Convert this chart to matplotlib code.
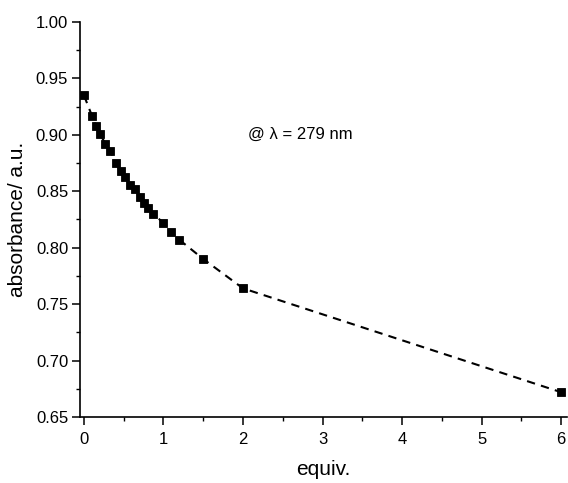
import matplotlib
matplotlib.use("Agg")
import matplotlib.pyplot as plt
from matplotlib.ticker import MultipleLocator

equiv = [0, 0.1, 0.15, 0.2, 0.27, 0.33, 0.4, 0.46, 0.52, 0.58, 0.64, 0.7,
         0.75, 0.81, 0.87, 1.0, 1.1, 1.2, 1.5, 2.0, 6.0]
absorbance = [0.935, 0.917, 0.908, 0.901, 0.892, 0.886, 0.875, 0.868, 0.863,
              0.856, 0.852, 0.845, 0.840, 0.835, 0.830, 0.822, 0.814, 0.807,
              0.790, 0.764, 0.672]
x_ticks = [0, 1, 2, 3, 4, 5, 6]
y_ticks = [0.65, 0.70, 0.75, 0.80, 0.85, 0.90, 0.95, 1.00]

plt.rcParams['font.family'] = ['Liberation Sans', 'DejaVu Sans']

fig = plt.figure(figsize=(5.68, 4.83), dpi=100)
ax = fig.add_axes([80/568, 1-417/483, (567-80)/568, (417-22)/483])

ax.plot(equiv, absorbance, color='black', linestyle=(0, (4, 3)), linewidth=1.5,
        marker='s', markersize=5.5, markeredgewidth=0.6,
        markerfacecolor='black', markeredgecolor='black')

ax.set_xlim(-0.05, 6.075)
ax.set_ylim(0.65, 1.00)
ax.set_xticks(x_ticks)
ax.set_yticks(y_ticks)
ax.set_yticklabels([f"{v:.2f}" for v in y_ticks])
ax.xaxis.set_minor_locator(MultipleLocator(0.5))
ax.yaxis.set_minor_locator(MultipleLocator(0.025))
ax.tick_params(which='major', direction='out', length=5.5, width=1.1, labelsize=12,
               colors='black', pad=3)
ax.tick_params(axis='x', which='major', pad=5)
ax.tick_params(which='minor', direction='out', length=3, width=1.0)
for s in ['top', 'right']:
    ax.spines[s].set_visible(False)
for s in ['left', 'bottom']:
    ax.spines[s].set_linewidth(1.2)

ax.set_xlabel('equiv.', fontsize=15, labelpad=10)
ax.set_ylabel('absorbance/ a.u.', fontsize=15, labelpad=6)
ax.text(2.72, 0.900, '@ λ = 279 nm', fontsize=12, ha='center', va='center')

fig.savefig('out.png', dpi=100)
